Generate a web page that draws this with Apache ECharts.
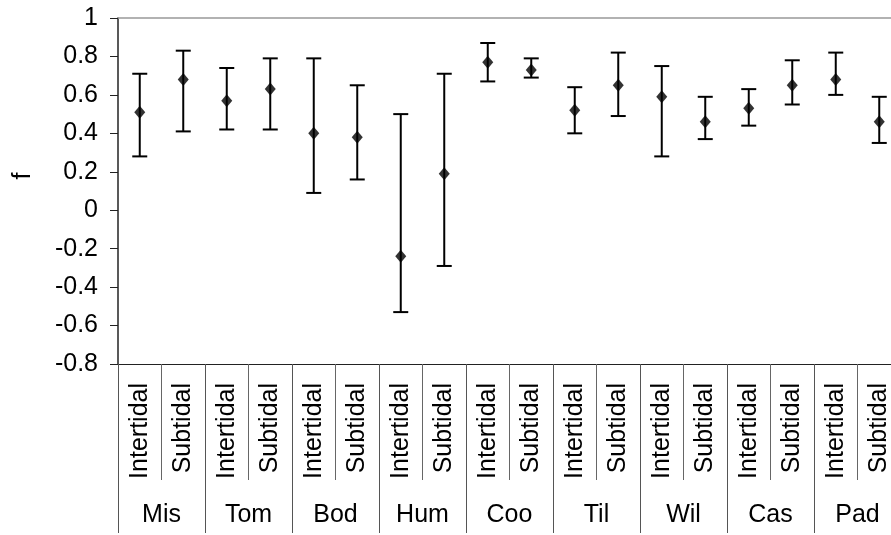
<!DOCTYPE html>
<html>
<head>
<meta charset="utf-8">
<title>f by site and habitat</title>
<script src="https://cdn.jsdelivr.net/npm/echarts@6/dist/echarts.min.js"></script>
<style>
    html, body { margin: 0; padding: 0; background: #fff; }
    #chart { width: 891px; height: 535px; }
</style>
</head>
<body>
<div id="chart"></div>
<script>
// sites along the bottom, each split in two habitats
const sites = ['Mis', 'Tom', 'Bod', 'Hum', 'Coo', 'Til', 'Wil', 'Cas', 'Pad'];
const habitats = ['Intertidal', 'Subtidal'];

// one value per site/habitat pair, in site order
const means = [0.51, 0.68, 0.57, 0.63, 0.40, 0.38, -0.24, 0.19, 0.77, 0.73, 0.52, 0.65, 0.59, 0.46, 0.53, 0.65, 0.68, 0.46];
const lows  = [0.28, 0.41, 0.42, 0.42, 0.09, 0.16, -0.53, -0.29, 0.67, 0.69, 0.40, 0.49, 0.28, 0.37, 0.44, 0.55, 0.60, 0.35];
const highs = [0.71, 0.83, 0.74, 0.79, 0.79, 0.65, 0.50, 0.71, 0.87, 0.79, 0.64, 0.82, 0.75, 0.59, 0.63, 0.78, 0.82, 0.59];

const yTicks = [-0.8, -0.6, -0.4, -0.2, 0, 0.2, 0.4, 0.6, 0.8, 1];

let categories = [];
sites.forEach(function (s) {
    habitats.forEach(function (h) {
        categories.push(s + ' ' + h);
    });
});

const fontFamily = '"Liberation Sans", Arial, sans-serif';

let myChart = echarts.init(document.getElementById('chart'));

myChart.setOption({
    animation: false,
    grid: {
        left: 118,
        top: 18,
        right: -10,
        bottom: 171,
        outerBoundsMode: 'none',
        containLabel: false
    },
    xAxis: [
        {
            // habitat row
            type: 'category',
            data: categories,
            position: 'bottom',
            axisLine: { onZero: false, lineStyle: { color: '#222', width: 1 } },
            axisTick: { show: true, interval: 0, length: 116, lineStyle: { color: '#666' } },
            axisLabel: {
                interval: 0,
                rotate: 90,
                margin: 19,
                fontSize: 25,
                fontFamily: fontFamily,
                color: '#000',
                formatter: function (v) {
                    return v.split(' ')[1];
                }
            }
        },
        {
            // site row
            type: 'category',
            data: sites,
            position: 'bottom',
            axisLine: { onZero: false, lineStyle: { color: '#222', width: 1 } },
            axisTick: { show: true, interval: 0, length: 169, lineStyle: { color: '#555' } },
            axisLabel: {
                interval: 0,
                margin: 139,
                fontSize: 25,
                fontFamily: fontFamily,
                color: '#000'
            }
        },
        {
            // plot area top border
            type: 'category',
            data: categories,
            position: 'top',
            axisLine: { onZero: false, lineStyle: { color: '#999', width: 1.5 } },
            axisTick: { show: false },
            axisLabel: { show: false }
        }
    ],
    yAxis: {
        type: 'value',
        min: yTicks[0],
        max: yTicks[yTicks.length - 1],
        interval: 0.2,
        name: 'f',
        nameLocation: 'middle',
        nameRotate: 90,
        nameGap: 82,
        nameTextStyle: { fontSize: 25, fontFamily: fontFamily, color: '#000', padding: [0, 0, 0, 30] },
        axisLine: { show: true, lineStyle: { color: '#222', width: 1.5 } },
        axisTick: { show: true, length: 8, lineStyle: { color: '#222' } },
        axisLabel: { margin: 20, fontSize: 25, fontFamily: fontFamily, color: '#000' },
        splitLine: { show: false }
    },
    series: [
        {
            name: 'range',
            type: 'custom',
            xAxisIndex: 0,
            renderItem: function (params, api) {
                let i = api.value(0);
                let top = api.coord([i, api.value(2)]);
                let bot = api.coord([i, api.value(1)]);
                let half = 7.5;
                let style = { stroke: '#000', lineWidth: 2 };
                return {
                    type: 'group',
                    children: [
                        { type: 'line', shape: { x1: top[0], y1: top[1], x2: bot[0], y2: bot[1] }, style: style },
                        { type: 'line', shape: { x1: top[0] - half, y1: top[1], x2: top[0] + half, y2: top[1] }, style: style },
                        { type: 'line', shape: { x1: bot[0] - half, y1: bot[1], x2: bot[0] + half, y2: bot[1] }, style: style }
                    ]
                };
            },
            encode: { x: 0, y: [1, 2] },
            data: categories.map(function (c, i) {
                return [i, lows[i], highs[i]];
            }),
            z: 2
        },
        {
            name: 'f',
            type: 'scatter',
            xAxisIndex: 0,
            symbol: 'diamond',
            symbolSize: [11, 13],
            itemStyle: { color: '#000' },
            data: means,
            z: 3
        }
    ]
});

//自适应
window.addEventListener('resize', function () {
    myChart.resize();
});
</script>
</body>
</html>
